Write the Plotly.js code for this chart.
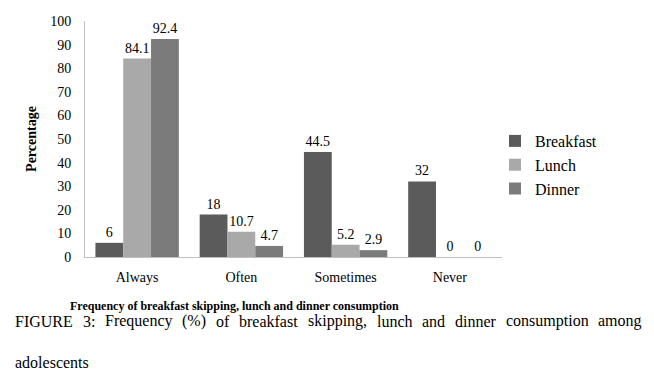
<!DOCTYPE html>
<html>
<head>
<meta charset="utf-8">
<script src="https://cdn.plot.ly/plotly-3.0.1.min.js"></script>
<style>html,body{margin:0;padding:0;background:#fff;}#chart{width:654px;height:387px;}</style>
</head>
<body>
<div id="chart"></div>
<script>
const categories = ["Always", "Often", "Sometimes", "Never"];
const breakfast = [6, 18, 44.5, 32];
const lunch = [84.1, 10.7, 5.2, 0];
const dinner = [92.4, 4.7, 2.9, 0];
const seriesNames = ["Breakfast", "Lunch", "Dinner"];
const yTicks = [0, 10, 20, 30, 40, 50, 60, 70, 80, 90, 100];
const captionLine1 = "FIGURE 3: Frequency (%) of breakfast skipping, lunch and dinner consumption among";
const captionLine2 = "adolescents";

const FONT = "Times New Roman, Liberation Serif, DejaVu Serif, serif";
const colors = ["#5b5b5b", "#a9a9a9", "#7b7b7b"];
const W = 654, H = 387;
const M = {l: 85, r: 152, t: 21, b: 130};
const PW = W - M.l - M.r, PH = H - M.t - M.b;

function mk(name, vals, color) {
  return {
    type: "bar", name: name, x: categories, y: vals,
    marker: {color: color},
    text: vals.map(v => String(v)), textposition: "outside",
    textfont: {family: FONT, size: 14, color: "#000"},
    cliponaxis: false, hoverinfo: "x+y"
  };
}
const data = [mk(seriesNames[0], breakfast, colors[0]), mk(seriesNames[1], lunch, colors[1]), mk(seriesNames[2], dinner, colors[2])];

const annotations = [];
const ctx = document.createElement("canvas").getContext("2d");
const capSize = 16;
ctx.font = capSize + "px 'Times New Roman', 'Liberation Serif', serif";
const words = captionLine1.split(" ");
const left = 13, right = 640;
const widths = words.map(w => ctx.measureText(w).width);
const total = widths.reduce((a, b) => a + b, 0);
const gap = (right - left - total) / (words.length - 1);
let cx = left;
const px2x = p => (p - M.l) / PW;
const py2y = p => (H - M.b - p) / PH;
words.forEach((w, i) => {
  annotations.push({text: w, xref: "paper", yref: "paper", x: px2x(cx), y: py2y(321), xanchor: "left", yanchor: "middle", showarrow: false, font: {family: FONT, size: capSize, color: "#000"}});
  cx += widths[i] + gap;
});
annotations.push({text: captionLine2, xref: "paper", yref: "paper", x: px2x(left), y: py2y(362), xanchor: "left", yanchor: "middle", showarrow: false, font: {family: FONT, size: capSize, color: "#000"}});
annotations.push({text: "<b>Frequency of breakfast skipping, lunch and dinner consumption</b>", xref: "paper", yref: "paper", x: px2x(234), y: py2y(306), xanchor: "center", yanchor: "middle", showarrow: false, font: {family: FONT, size: 12, color: "#000"}});

const layout = {
  width: W, height: H,
  margin: M,
  paper_bgcolor: "#fff", plot_bgcolor: "#fff",
  barmode: "group", bargap: 0.2, bargroupgap: 0,
  font: {family: FONT, size: 14, color: "#000"},
  xaxis: {
    type: "category", showline: true, linecolor: "#bfbfbf", linewidth: 1,
    showgrid: false, ticks: "", zeroline: false, ticklabelstandoff: 7,
    tickfont: {family: FONT, size: 14, color: "#000"}, automargin: false
  },
  yaxis: {
    range: [0, 100], tickvals: yTicks, ticktext: yTicks.map(String),
    showline: true, linecolor: "#bfbfbf", linewidth: 1, showgrid: false,
    zeroline: false, ticks: "", ticklabelstandoff: 10,
    tickfont: {family: FONT, size: 14, color: "#000"}, automargin: false,
    title: {text: "<b>Percentage</b>", font: {family: FONT, size: 14, color: "#000"}, standoff: 10}
  },
  legend: {
    x: px2x(495), y: py2y(124), xanchor: "left", yanchor: "top",
    font: {family: FONT, size: 16, color: "#000"},
    bgcolor: "rgba(0,0,0,0)", tracegroupgap: 0, itemwidth: 30
  },
  showlegend: true,
  annotations: annotations
};
Plotly.newPlot("chart", data, layout, {displayModeBar: false, staticPlot: true});
</script>
</body>
</html>
